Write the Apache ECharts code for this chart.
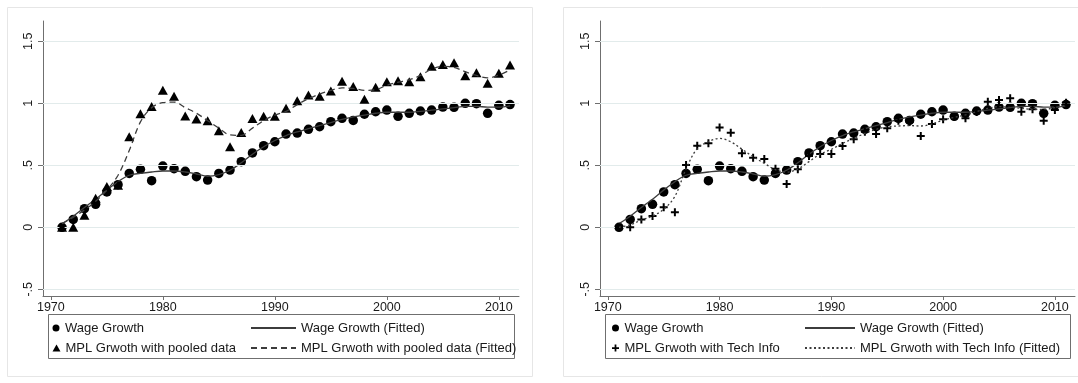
<!DOCTYPE html>
<html>
<head>
<meta charset="utf-8">
<script src="https://cdn.jsdelivr.net/npm/echarts@6/dist/echarts.min.js"></script>
<style>
  html, body { margin: 0; padding: 0; background: #fff; }
  #chart { width: 1078px; height: 383px; }
</style>
</head>
<body>
<div id="chart"></div>
<script>
// Years of observation
const years = [1971, 1972, 1973, 1974, 1975, 1976, 1977, 1978, 1979, 1980,
               1981, 1982, 1983, 1984, 1985, 1986, 1987, 1988, 1989, 1990,
               1991, 1992, 1993, 1994, 1995, 1996, 1997, 1998, 1999, 2000,
               2001, 2002, 2003, 2004, 2005, 2006, 2007, 2008, 2009, 2010, 2011];

// Cumulative wage growth and its smoothed fit
const wageGrowth = [0.000, 0.064, 0.150, 0.185, 0.285, 0.344, 0.435, 0.468, 0.376, 0.494,
                    0.473, 0.452, 0.408, 0.381, 0.435, 0.462, 0.529, 0.600, 0.658, 0.690,
                    0.752, 0.760, 0.790, 0.811, 0.852, 0.879, 0.862, 0.912, 0.932, 0.946,
                    0.895, 0.919, 0.938, 0.946, 0.970, 0.968, 1.000, 0.997, 0.919, 0.984, 0.990];
const wageFitted = [0.030, 0.090, 0.160, 0.226, 0.300, 0.368, 0.420, 0.435, 0.446, 0.454,
                    0.454, 0.446, 0.430, 0.412, 0.425, 0.460, 0.520, 0.590, 0.650, 0.700,
                    0.740, 0.770, 0.795, 0.820, 0.845, 0.870, 0.890, 0.905, 0.920, 0.928,
                    0.928, 0.928, 0.935, 0.945, 0.955, 0.965, 0.975, 0.975, 0.970, 0.970, 0.980];

// MPL growth, pooled data
const mplPooled = [0.000, 0.000, 0.097, 0.235, 0.330, 0.340, 0.730, 0.915, 0.975, 1.105,
                   1.057, 0.897, 0.873, 0.860, 0.778, 0.649, 0.765, 0.878, 0.895, 0.895,
                   0.960, 1.020, 1.068, 1.057, 1.100, 1.178, 1.135, 1.032, 1.130, 1.174,
                   1.182, 1.174, 1.215, 1.300, 1.314, 1.327, 1.223, 1.247, 1.161, 1.242, 1.309];
const mplPooledFitted = [0.030, 0.080, 0.140, 0.210, 0.300, 0.420, 0.620, 0.850, 0.965, 1.005,
                         1.010, 0.965, 0.920, 0.860, 0.800, 0.745, 0.742, 0.800, 0.860, 0.905,
                         0.935, 0.990, 1.038, 1.075, 1.105, 1.124, 1.120, 1.105, 1.110, 1.146,
                         1.170, 1.190, 1.225, 1.275, 1.298, 1.290, 1.255, 1.225, 1.205, 1.228, 1.268];

// MPL growth with technology information
const mplTech = [0.000, 0.000, 0.064, 0.091, 0.161, 0.121, 0.502, 0.658, 0.677, 0.806,
                 0.763, 0.597, 0.561, 0.551, 0.472, 0.349, 0.468, 0.575, 0.591, 0.591,
                 0.656, 0.710, 0.770, 0.752, 0.798, 0.860, 0.850, 0.736, 0.833, 0.871,
                 0.890, 0.879, 0.930, 1.013, 1.027, 1.040, 0.932, 0.952, 0.860, 0.946, 1.005];
const mplTechFitted = [0.000, 0.020, 0.059, 0.091, 0.145, 0.250, 0.470, 0.635, 0.690, 0.717,
                       0.690, 0.630, 0.570, 0.516, 0.465, 0.445, 0.470, 0.530, 0.590, 0.629,
                       0.677, 0.717, 0.757, 0.790, 0.811, 0.817, 0.820, 0.817, 0.833, 0.865,
                       0.887, 0.906, 0.932, 0.960, 0.973, 0.968, 0.960, 0.952, 0.952, 0.965, 0.986];

// Axis ticks and labels
const xTicks = [1970, 1980, 1990, 2000, 2010];
const yTicks = [-0.5, 0, 0.5, 1, 1.5];
const yTickLabels = ['-.5', '0', '.5', '1', '1.5'];

// Legend entries
const legendWage = 'Wage Growth';
const legendWageFit = 'Wage Growth (Fitted)';
const legendPooled = 'MPL Grwoth with pooled data';
const legendPooledFit = 'MPL Grwoth with pooled data (Fitted)';
const legendTech = 'MPL Grwoth with Tech Info';
const legendTechFit = 'MPL Grwoth with Tech Info (Fitted)';

const FONT = '"Liberation Sans", Arial, Helvetica, sans-serif';
const AXIS_COLOR = '#6f6f6f';
const TEXT_COLOR = '#1a1a1a';
const GRID_COLOR = '#e2ebeb';
const LINE_COLOR = '#3c3c3c';
const PLUS_PATH = 'path://M3,0H5V3H8V5H5V8H3V5H0V3H3Z';

const pairs = arr => years.map((y, i) => [y, arr[i]]);

function makeXAxis(idx) {
  return {
    type: 'value', gridIndex: idx, min: 1969.3, max: 2011.8,
    splitLine: { show: false },
    axisLine: { show: true, onZero: false, lineStyle: { color: AXIS_COLOR, width: 1 } },
    axisTick: { show: true, length: 4, customValues: xTicks, lineStyle: { color: AXIS_COLOR } },
    axisLabel: {
      customValues: xTicks, margin: 5, color: TEXT_COLOR,
      fontFamily: FONT, fontSize: 12.5, formatter: v => String(v)
    }
  };
}
function makeYAxis(idx) {
  return {
    type: 'value', gridIndex: idx, min: -0.554, max: 1.664,
    splitLine: { show: false },
    axisLine: { show: true, onZero: false, lineStyle: { color: AXIS_COLOR, width: 1 } },
    axisTick: { show: true, length: 5, customValues: yTicks, lineStyle: { color: AXIS_COLOR } },
    axisLabel: {
      customValues: yTicks, margin: 8, rotate: 90, color: TEXT_COLOR,
      fontFamily: FONT, fontSize: 12.5,
      formatter: v => {
        const i = yTicks.findIndex(t => Math.abs(t - v) < 1e-9);
        return i >= 0 ? yTickLabels[i] : '';
      }
    }
  };
}

function gridLines(idx) {
  return {
    type: 'line', xAxisIndex: idx, yAxisIndex: idx, data: [], silent: true, z: 0,
    markLine: {
      silent: true, symbol: 'none', label: { show: false }, animation: false,
      lineStyle: { color: GRID_COLOR, width: 1, type: 'solid' },
      data: yTicks.map(v => ({ yAxis: v }))
    }
  };
}
function markers(name, values, idx, symbol, size, z) {
  return {
    type: 'scatter', name, xAxisIndex: idx, yAxisIndex: idx, data: pairs(values),
    symbol, symbolSize: size, itemStyle: { color: '#000', opacity: 1 }, z
  };
}
function fitted(name, values, idx, dash, z) {
  return {
    type: 'line', name, xAxisIndex: idx, yAxisIndex: idx, data: pairs(values),
    smooth: 0.35, symbol: 'none', showSymbol: false, z,
    itemStyle: { color: LINE_COLOR },
    lineStyle: { color: LINE_COLOR, width: 1.3, type: dash }
  };
}

function legendItem(name, left, top, size, isLine) {
  const lg = {
    data: [name], left, top, padding: 0, orient: 'horizontal',
    itemWidth: size[0], itemHeight: size[1], itemGap: 0,
    selectedMode: false,
    textStyle: { color: TEXT_COLOR, fontFamily: FONT, fontSize: 13 }
  };
  if (isLine) lg.itemStyle = { opacity: 0 };
  return lg;
}

// legend rows and box
const ROW1 = 328, ROW2 = 348;
const BOX_TOP = 314.5, BOX_H = 44;
const MK = [8, 7], LN_L = [45, 13], LN_R = [50, 13];

const chart = echarts.init(document.getElementById('chart'), null, { renderer: 'canvas' });
chart.setOption({
  animation: false,
  backgroundColor: '#fff',
  grid: [
    { left: 43, top: 21, width: 476, height: 275 },
    { left: 600, top: 21, width: 475, height: 275 }
  ],
  xAxis: [makeXAxis(0), makeXAxis(1)],
  yAxis: [makeYAxis(0), makeYAxis(1)],
  legend: [
    legendItem(legendWage, 52.5, ROW1 - 6.5, MK, false),
    legendItem(legendPooled, 52.5, ROW2 - 6.5, MK, false),
    legendItem(legendWageFit, 250, ROW1 - 6.5, LN_L, true),
    legendItem(legendPooledFit, 250, ROW2 - 6.5, LN_L, true),
    legendItem(legendWage, 612, ROW1 - 6.5, MK, false),
    legendItem(legendTech, 612, ROW2 - 6.5, MK, false),
    legendItem(legendWageFit, 804, ROW1 - 6.5, LN_R, true),
    legendItem(legendTechFit, 804, ROW2 - 6.5, LN_R, true)
  ],
  graphic: [
    // panel frames
    { type: 'rect', shape: { x: 7.5, y: 7.5, width: 525, height: 369 }, style: { fill: 'none', stroke: '#e6e6e6', lineWidth: 1 }, silent: true, z: -10 },
    { type: 'rect', shape: { x: 563.5, y: 7.5, width: 530, height: 369 }, style: { fill: 'none', stroke: '#e6e6e6', lineWidth: 1 }, silent: true, z: -10 },
    // legend boxes
    { type: 'rect', shape: { x: 48.5, y: BOX_TOP, width: 466, height: BOX_H }, style: { fill: 'none', stroke: '#6f6f6f', lineWidth: 1 }, silent: true },
    { type: 'rect', shape: { x: 605.5, y: BOX_TOP, width: 465, height: BOX_H }, style: { fill: 'none', stroke: '#6f6f6f', lineWidth: 1 }, silent: true }
  ],
  series: [
    gridLines(0),
    markers(legendWage, wageGrowth, 0, 'circle', 9.5, 3),
    fitted(legendWageFit, wageFitted, 0, 'solid', 4),
    markers(legendPooled, mplPooled, 0, 'triangle', [10, 9], 5),
    fitted(legendPooledFit, mplPooledFitted, 0, [6, 4], 6),

    gridLines(1),
    markers(legendWage, wageGrowth, 1, 'circle', 9.5, 3),
    fitted(legendWageFit, wageFitted, 1, 'solid', 4),
    markers(legendTech, mplTech, 1, PLUS_PATH, 8, 5),
    fitted(legendTechFit, mplTechFitted, 1, [2, 2.5], 6)
  ]
});
</script>
</body>
</html>
